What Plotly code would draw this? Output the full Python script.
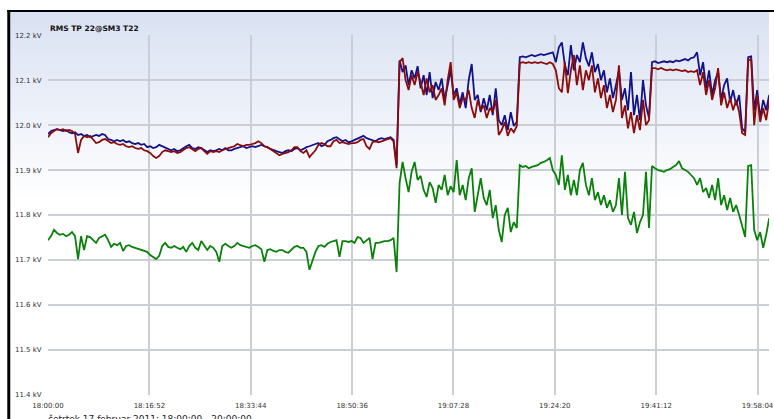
import base64
import pandas as pd
import plotly.graph_objects as go

# ---------------- data (kV, one sample every 30 s from 18:00:00) ----------------
start_time = "2011-02-17 18:00:00"
sample_step = "30s"

tick_times = ["2011-02-17 18:00:00", "2011-02-17 18:16:52", "2011-02-17 18:33:44",
              "2011-02-17 18:50:36", "2011-02-17 19:07:28", "2011-02-17 19:24:20",
              "2011-02-17 19:41:12", "2011-02-17 19:58:04"]
tick_labels = ["18:00:00", "18:16:52", "18:33:44", "18:50:36",
               "19:07:28", "19:24:20", "19:41:12", "19:58:04"]
y_ticks = [11.4, 11.5, 11.6, 11.7, 11.8, 11.9, 12.0, 12.1, 12.2]

blue_kv = [
    11.980, 11.987, 11.989, 11.991, 11.989, 11.987, 11.989, 11.984, 11.982, 11.984,
    11.978, 11.980, 11.976, 11.978, 11.973, 11.976, 11.978, 11.976, 11.980, 11.978,
    11.969, 11.967, 11.964, 11.967, 11.964, 11.967, 11.962, 11.964, 11.960, 11.958,
    11.960, 11.956, 11.958, 11.951, 11.953, 11.949, 11.951, 11.956, 11.953, 11.949,
    11.947, 11.944, 11.947, 11.942, 11.944, 11.949, 11.953, 11.956, 11.949, 11.947,
    11.951, 11.949, 11.944, 11.940, 11.944, 11.942, 11.944, 11.947, 11.944, 11.949,
    11.944, 11.944, 11.947, 11.949, 11.951, 11.953, 11.949, 11.951, 11.953, 11.951,
    11.953, 11.956, 11.953, 11.951, 11.947, 11.944, 11.942, 11.940, 11.938, 11.942,
    11.944, 11.942, 11.947, 11.949, 11.944, 11.947, 11.951, 11.953, 11.956, 11.958,
    11.960, 11.953, 11.956, 11.964, 11.967, 11.971, 11.973, 11.969, 11.964, 11.967,
    11.962, 11.964, 11.967, 11.969, 11.973, 11.976, 11.971, 11.969, 11.967, 11.964,
    11.969, 11.971, 11.969, 11.971, 11.973, 11.967, 11.911, 12.144,
    12.118, 12.133, 12.089, 12.122, 12.104, 12.131, 12.082, 12.111, 12.067, 12.118,
    12.060, 12.096, 12.078, 12.104, 12.056, 12.089, 12.122, 12.067, 12.082, 12.047,
    12.073, 12.038, 12.100, 12.136, 12.056, 12.067, 12.029, 12.060, 12.033, 12.067,
    12.022, 12.082, 12.011, 12.000, 12.022, 11.989, 12.029, 11.998, 12.007,
    12.151, 12.153, 12.151, 12.153, 12.156, 12.153, 12.156, 12.158, 12.156, 12.158,
    12.160, 12.162, 12.140, 12.173, 12.184, 12.133, 12.111, 12.178, 12.122, 12.156,
    12.140, 12.184, 12.149, 12.131, 12.162, 12.118, 12.136, 12.100, 12.122, 12.073,
    12.104, 12.060, 12.089, 12.122, 12.056, 12.082, 12.033, 12.118, 12.022, 12.067,
    12.011, 12.100, 12.044, 12.016, 12.140, 12.142, 12.138, 12.140, 12.142, 12.140,
    12.142, 12.140, 12.144, 12.142, 12.144, 12.147, 12.144, 12.149, 12.151, 12.162,
    12.111, 12.140, 12.082, 12.122, 12.067, 12.100, 12.118, 12.056, 12.089, 12.104,
    12.051, 12.078, 12.044, 12.067, 11.993, 11.984, 12.151, 12.153, 12.033, 12.078,
    12.016, 12.056, 12.033, 12.067,
]

red_kv = [
    11.973, 11.982, 11.987, 11.991, 11.989, 11.991, 11.987, 11.989, 11.987, 11.980,
    11.938, 11.967, 11.976, 11.973, 11.976, 11.969, 11.960, 11.962, 11.967, 11.969,
    11.964, 11.960, 11.962, 11.958, 11.956, 11.958, 11.953, 11.951, 11.953, 11.949,
    11.947, 11.949, 11.944, 11.942, 11.938, 11.931, 11.927, 11.931, 11.940, 11.944,
    11.942, 11.940, 11.942, 11.938, 11.940, 11.944, 11.949, 11.951, 11.947, 11.942,
    11.947, 11.949, 11.942, 11.936, 11.942, 11.940, 11.942, 11.940, 11.944, 11.947,
    11.949, 11.951, 11.953, 11.958, 11.956, 11.953, 11.956, 11.956, 11.958, 11.960,
    11.964, 11.960, 11.953, 11.951, 11.947, 11.942, 11.938, 11.933, 11.936, 11.938,
    11.940, 11.944, 11.951, 11.951, 11.942, 11.938, 11.944, 11.929, 11.936, 11.944,
    11.956, 11.960, 11.958, 11.953, 11.953, 11.964, 11.967, 11.960, 11.962, 11.960,
    11.958, 11.960, 11.960, 11.962, 11.967, 11.969, 11.953, 11.947, 11.962, 11.964,
    11.962, 11.964, 11.967, 11.969, 11.971, 11.964, 11.904, 12.140,
    12.149, 12.100, 12.078, 12.111, 12.089, 12.118, 12.096, 12.067, 12.104, 12.073,
    12.089, 12.056, 12.067, 12.082, 12.044, 12.100, 12.140, 12.056, 12.073, 12.038,
    12.060, 12.056, 12.078, 12.038, 12.016, 12.056, 12.033, 12.044, 12.016, 12.038,
    12.029, 12.056, 11.978, 11.989, 12.007, 11.976, 11.993, 11.984, 11.998,
    12.138, 12.140, 12.138, 12.140, 12.138, 12.140, 12.138, 12.140, 12.138, 12.136,
    12.140, 12.136, 12.122, 12.082, 12.073, 12.140, 12.071, 12.122, 12.156, 12.089,
    12.133, 12.078, 12.122, 12.100, 12.133, 12.073, 12.104, 12.060, 12.089, 12.038,
    12.067, 12.029, 12.056, 12.133, 12.016, 12.044, 11.993, 12.029, 11.982, 12.022,
    11.989, 12.056, 12.000, 12.011, 12.127, 12.127, 12.124, 12.127, 12.124, 12.122,
    12.124, 12.122, 12.124, 12.122, 12.120, 12.122, 12.118, 12.120, 12.118, 12.122,
    12.089, 12.118, 12.067, 12.100, 12.056, 12.082, 12.127, 12.044, 12.073, 12.038,
    12.060, 12.033, 12.056, 12.029, 11.982, 11.978, 12.144, 12.147, 12.000, 12.067,
    12.007, 12.038, 12.011, 12.056,
]

green_kv = [
    11.744, 11.753, 11.767, 11.760, 11.756, 11.758, 11.753, 11.756, 11.762, 11.753,
    11.702, 11.753, 11.722, 11.753, 11.751, 11.744, 11.738, 11.749, 11.753, 11.756,
    11.744, 11.729, 11.736, 11.733, 11.738, 11.720, 11.731, 11.733, 11.729, 11.727,
    11.724, 11.722, 11.720, 11.718, 11.711, 11.707, 11.702, 11.709, 11.731, 11.738,
    11.729, 11.727, 11.731, 11.727, 11.724, 11.729, 11.718, 11.731, 11.738, 11.727,
    11.722, 11.742, 11.731, 11.722, 11.731, 11.727, 11.718, 11.696, 11.731, 11.736,
    11.731, 11.727, 11.731, 11.738, 11.733, 11.731, 11.729, 11.727, 11.731, 11.733,
    11.729, 11.724, 11.696, 11.722, 11.724, 11.720, 11.718, 11.722, 11.722, 11.718,
    11.716, 11.722, 11.729, 11.731, 11.727, 11.727, 11.718, 11.678, 11.700, 11.718,
    11.731, 11.733, 11.729, 11.736, 11.740, 11.742, 11.744, 11.707, 11.742, 11.742,
    11.740, 11.742, 11.738, 11.751, 11.749, 11.738, 11.744, 11.749, 11.702, 11.738,
    11.738, 11.740, 11.742, 11.742, 11.744, 11.749, 11.673, 11.871, 11.918, 11.882,
    11.851, 11.896, 11.918, 11.878, 11.887, 11.856, 11.840, 11.873, 11.860, 11.827,
    11.867, 11.856, 11.889, 11.844, 11.864, 11.851, 11.922, 11.844, 11.867, 11.833,
    11.882, 11.904, 11.807, 11.844, 11.882, 11.838, 11.822, 11.856, 11.793, 11.822,
    11.767, 11.740, 11.800, 11.816, 11.762, 11.784, 11.771,
    11.911, 11.907, 11.909, 11.904, 11.907, 11.909, 11.911, 11.916, 11.918, 11.922,
    11.927, 11.900, 11.889, 11.867, 11.933, 11.856, 11.889, 11.844, 11.878, 11.844,
    11.900, 11.916, 11.867, 11.844, 11.882, 11.833, 11.851, 11.822, 11.844, 11.816,
    11.833, 11.807, 11.822, 11.882, 11.800, 11.896, 11.793, 11.778, 11.807, 11.760,
    11.784, 11.800, 11.896, 11.771, 11.909, 11.904, 11.900, 11.898, 11.896, 11.900,
    11.902, 11.907, 11.911, 11.920, 11.904, 11.900, 11.896, 11.889, 11.882, 11.867,
    11.882, 11.851, 11.860, 11.838, 11.867, 11.833, 11.882, 11.822, 11.844, 11.811,
    11.838, 11.807, 11.822, 11.800, 11.778, 11.751, 11.909, 11.911, 11.767, 11.744,
    11.762, 11.727, 11.756, 11.793,
]

# ---------------- figure ----------------
FIG_W, FIG_H = 774, 419
M_L, M_R, M_T, M_B = 48, 0, 35, 24
PW = FIG_W - M_L - M_R
PH = FIG_H - M_T - M_B


def pxx(px):                 # page pixel -> paper x
    return (px - M_L) / PW


def pxy(py):                 # page pixel -> paper y
    return (FIG_H - M_B - py) / PH


def times_for(values):
    return pd.date_range(start_time, periods=len(values), freq=sample_step)


fig = go.Figure()
for vals, col in [(blue_kv, "#12128a"), (red_kv, "#8c0c0c"), (green_kv, "#0b800b")]:
    fig.add_trace(go.Scatter(x=times_for(vals), y=vals, mode="lines",
                             line=dict(color=col, width=1.8), hoverinfo="skip",
                             showlegend=False))

svg = ('<svg xmlns="http://www.w3.org/2000/svg" width="100" height="100" '
       'preserveAspectRatio="none"><defs><linearGradient id="g" x1="0" y1="0" x2="0" y2="1">'
       '<stop offset="0" stop-color="#d9e1f2"/><stop offset="1" stop-color="#ffffff"/>'
       '</linearGradient></defs><rect width="100" height="100" fill="url(#g)"/></svg>')
svg_uri = "data:image/svg+xml;base64," + base64.b64encode(svg.encode()).decode()

fig.add_layout_image(dict(source=svg_uri, xref="paper", yref="paper",
                          x=pxx(10), y=pxy(12), sizex=pxx(FIG_W) - pxx(10),
                          sizey=pxy(12) - pxy(200), sizing="stretch",
                          xanchor="left", yanchor="top", layer="below"))

# black panel frame (left and top)
fig.add_shape(type="rect", xref="paper", yref="paper", x0=pxx(7), x1=pxx(10),
              y0=pxy(FIG_H + 5), y1=pxy(10), fillcolor="#000000", line_width=0,
              layer="above")
fig.add_shape(type="rect", xref="paper", yref="paper", x0=pxx(7), x1=pxx(FIG_W + 5),
              y0=pxy(12), y1=pxy(10), fillcolor="#000000", line_width=0, layer="above")

fig.add_annotation(text="<b>RMS TP 22@SM3 T22</b>", xref="paper", yref="paper",
                   x=pxx(48), y=pxy(28), xanchor="left", yanchor="middle",
                   showarrow=False, font=dict(family="DejaVu Sans", size=7.5, color="#111"))
fig.add_annotation(text="četrtek 17 februar 2011: 18:00:00 - 20:00:00", xref="paper",
                   yref="paper", x=pxx(46), y=pxy(412), xanchor="left", yanchor="top",
                   showarrow=False, font=dict(family="DejaVu Sans", size=9, color="#222"))

fig.update_layout(
    width=FIG_W, height=FIG_H,
    margin=dict(l=M_L, r=M_R, t=M_T, b=M_B, pad=0),
    paper_bgcolor="#ffffff", plot_bgcolor="rgba(0,0,0,0)",
    font=dict(family="DejaVu Sans", size=7, color="#333"),
    xaxis=dict(type="date", range=["2011-02-17 18:00:00", "2011-02-17 19:59:58"],
               tickmode="array", tickvals=tick_times, ticktext=tick_labels,
               showgrid=True, gridcolor="#cbcfd5", gridwidth=2, zeroline=False,
               showline=False, ticks="outside", ticklen=4, tickcolor="rgba(0,0,0,0)",
               ticklabeloverflow="allow", tickfont=dict(size=7, color="#333")),
    yaxis=dict(range=[11.3995, 12.2005], tickmode="array", tickvals=y_ticks,
               ticktext=[f"{v:.1f} kV" for v in y_ticks],
               showgrid=True, gridcolor="#cbcfd5", gridwidth=2, zeroline=False,
               showline=False, ticks="outside", ticklen=4, tickcolor="rgba(0,0,0,0)",
               tickfont=dict(size=7, color="#333")),
)

fig.write_html("out.html", config={"displayModeBar": False},
               post_script="document.body.style.margin='0';"
                           "document.body.style.overflow='hidden';")
